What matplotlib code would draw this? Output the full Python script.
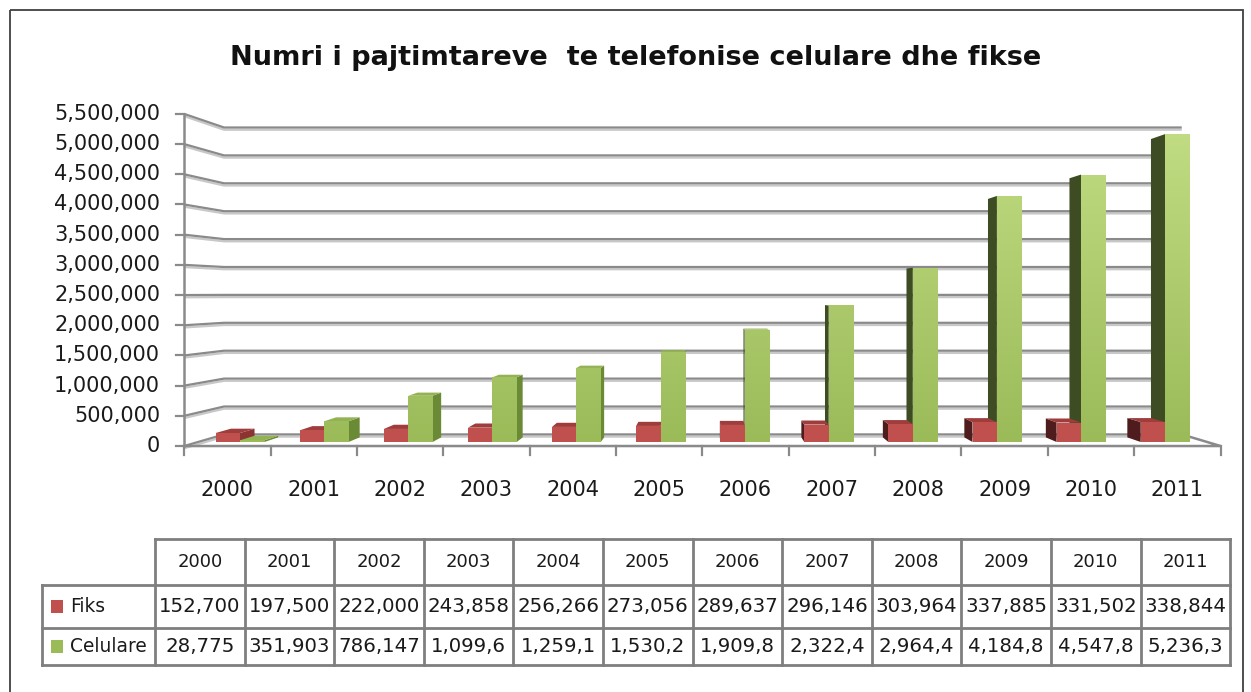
import numpy as np
import matplotlib
matplotlib.use('Agg')
import matplotlib.pyplot as plt
from matplotlib.patches import Polygon, Rectangle
from matplotlib.colors import LinearSegmentedColormap, Normalize
import matplotlib.patheffects as pe

# ---------------- data ----------------
years = ['2000', '2001', '2002', '2003', '2004', '2005',
         '2006', '2007', '2008', '2009', '2010', '2011']
fiks = [152700, 197500, 222000, 243858, 256266, 273056,
        289637, 296146, 303964, 337885, 331502, 338844]
celulare = [28775, 351903, 786147, 1099600, 1259100, 1530200,
            1909800, 2322400, 2964400, 4184800, 4547800, 5236300]
series_names = ['Fiks', 'Celulare']
title = 'Numri i pajtimtareve  te telefonise celulare dhe fikse'
y_ticks = list(range(0, 5500001, 500000))

# ---------------- styling / layout ----------------
W, H = 1251, 692
PX0, DX = 240.0, 84.1          # pixel x of category 0 (bar plane), px per category
ROW0, DY = 442.0, 58.8e-6      # pixel row of value 0 (bar plane), px per unit
VX = (709 - PX0) / DX          # vanishing point (data coords)
VV = (ROW0 - 293) / DY
K_FRONT, K_BAR_BACK, K_WALL = 1.027, 0.969, 0.949
BW = 0.29

RED = '#C0504D'; RED_TOP = '#9E3D3B'; RED_RSIDE = '#8C3432'; RED_LSIDE = '#4E1C1C'
GREEN_TOP = '#93B253'; GREEN_RSIDE = '#6A8A36'; GREEN_LSIDE = '#3D4C23'
GRID = '#8A8A8A'
TXT = '#1a1a1a'
FONT = ['DejaVu Sans']

fig = plt.figure(figsize=(W / 100, H / 100), dpi=100)
ax = fig.add_axes([0, 0, 1, 1])
ax.axis('off')
XL = ((0 - PX0) / DX, (W - PX0) / DX)
YL = ((ROW0 - H) / DY, ROW0 / DY)


def proj(x, v, k):
    return VX + k * (x - VX), VV + k * (v - VV)


def row2v(r):
    return (ROW0 - r) / DY


shadow = [pe.SimpleLineShadow(offset=(0, -1.6), shadow_color='#c8c8c8', alpha=1.0), pe.Normal()]

# back wall + left wall gridlines
xl, xr = -0.5, len(years) - 0.5
for v in y_ticks:
    a = proj(xl, v, K_FRONT); b = proj(xl, v, K_WALL); c = proj(xr, v, K_WALL)
    ax.plot([a[0], b[0], c[0]], [a[1], b[1], c[1]], color=GRID, lw=1.6,
            solid_capstyle='butt', zorder=1, path_effects=shadow)
# floor edges
fl = proj(xl, 0, K_FRONT); fr = proj(xr, 0, K_FRONT); br = proj(xr, 0, K_WALL)
ax.plot([fl[0], fr[0], br[0]], [fl[1], fr[1], br[1]], color=GRID, lw=1.8, zorder=1)
# y axis
top = proj(xl, y_ticks[-1], K_FRONT)
ax.plot([fl[0], top[0]], [fl[1], top[1]], color=GRID, lw=1.8, zorder=2)
tick_len = 8 / DX
for v in y_ticks:
    p = proj(xl, v, K_FRONT)
    ax.plot([p[0] - tick_len, p[0]], [p[1], p[1]], color=GRID, lw=1.6, zorder=2)
    ax.text(p[0] - 24 / DX, p[1], f'{v:,}', ha='right', va='center',
            fontsize=15, color=TXT, family=FONT)
# x ticks and labels
for b in np.arange(-0.5, len(years), 1.0):
    p = proj(b, 0, K_FRONT)
    ax.plot([p[0], p[0]], [p[1], p[1] - 9 / DY], color=GRID, lw=1.6, zorder=2)
for i, yr in enumerate(years):
    p = proj(i, 0, K_FRONT)
    ax.text(p[0], row2v(490), yr, ha='center', va='center', fontsize=15,
            color=TXT, family=FONT)

# ---------------- bars ----------------
gcmap = LinearSegmentedColormap.from_list('g', ['#9BBB59', '#C2DD84'])
gnorm = Normalize(0, y_ticks[-1])
z = [3]


def draw_bar(x0, x1, v, front, top_c, rside_c, lside_c, gradient=False):
    if x1 < VX:
        quad = [proj(x1, 0, 1), proj(x1, v, 1), proj(x1, v, K_BAR_BACK), proj(x1, 0, K_BAR_BACK)]
        ax.add_patch(Polygon(quad, closed=True, fc=rside_c, ec='none', zorder=z[0])); z[0] += 1
    elif x0 > VX:
        quad = [proj(x0, 0, 1), proj(x0, v, 1), proj(x0, v, K_BAR_BACK), proj(x0, 0, K_BAR_BACK)]
        ax.add_patch(Polygon(quad, closed=True, fc=lside_c, ec='none', zorder=z[0])); z[0] += 1
    if v < VV:
        quad = [proj(x0, v, 1), proj(x1, v, 1), proj(x1, v, K_BAR_BACK), proj(x0, v, K_BAR_BACK)]
        ax.add_patch(Polygon(quad, closed=True, fc=top_c, ec='none', zorder=z[0])); z[0] += 1
    bars = ax.bar(x0, v, width=x1 - x0, align='edge', color=front, zorder=z[0], lw=0)
    z[0] += 1
    if gradient:
        grad = np.linspace(0, v, 100).reshape(-1, 1)
        im = ax.imshow(grad, extent=[x0, x1, 0, v], origin='lower', aspect='auto',
                       cmap=gcmap, norm=gnorm, zorder=z[0], interpolation='bilinear')
        im.set_clip_path(bars[0])
        z[0] += 1


for i in range(len(years)):
    red = (i - BW, i, fiks[i])
    grn = (i, i + BW, celulare[i])

    def dr():
        draw_bar(*red, RED, RED_TOP, RED_RSIDE, RED_LSIDE)

    def dg():
        draw_bar(*grn, '#9BBB59', GREEN_TOP, GREEN_RSIDE, GREEN_LSIDE, gradient=True)

    if i < VX:
        dr(); dg()
    else:
        dg(); dr()

ax.set_xlim(*XL)
ax.set_ylim(*YL)

# ---------------- overlay (pixel coords): title, table, border ----------------
pax = fig.add_axes([0, 0, 1, 1], facecolor='none')
pax.set_xlim(0, W); pax.set_ylim(H, 0); pax.axis('off')
pax.add_patch(Rectangle((10, 10), 1233, 720, fill=False, ec='#404040', lw=1.3))
pax.text(636, 58, title, ha='center', va='center', fontsize=19.5, fontweight='bold',
         color='#111111', family=FONT)

TL = '#7f7f7f'
rows = [539, 585, 628, 665]
c0, cw = 155, 89.6
cols = [c0 + cw * j for j in range(len(years) + 1)]
leg_x = 42
pax.plot([cols[0], cols[-1]], [rows[0], rows[0]], color=TL, lw=2)
for r in rows[1:]:
    pax.plot([leg_x, cols[-1]], [r, r], color=TL, lw=2)
pax.plot([leg_x, leg_x], [rows[1], rows[3]], color=TL, lw=2)
for c in cols:
    pax.plot([c, c], [rows[0], rows[3]], color=TL, lw=2)


def cell_txt(v):
    s = f'{v:,}'
    return s[:7]


for j, yr in enumerate(years):
    cx = c0 + cw * (j + 0.5)
    pax.text(cx, (rows[0] + rows[1]) / 2, yr, ha='center', va='center', fontsize=13,
             color=TXT, family=FONT)
    pax.text(cx, (rows[1] + rows[2]) / 2, cell_txt(fiks[j]), ha='center', va='center',
             fontsize=14.2, color=TXT, family=FONT)
    pax.text(cx, (rows[2] + rows[3]) / 2, cell_txt(celulare[j]), ha='center', va='center',
             fontsize=14.2, color=TXT, family=FONT)

for k, (name, col) in enumerate(zip(series_names, [RED, '#9BBB59'])):
    yc = (rows[1 + k] + rows[2 + k]) / 2
    pax.add_patch(Rectangle((51, yc - 6.5), 12, 13, fc=col, ec='none'))
    pax.text(70, yc, name, ha='left', va='center', fontsize=13.4, color=TXT, family=FONT)

fig.savefig('out.png', dpi=100)
